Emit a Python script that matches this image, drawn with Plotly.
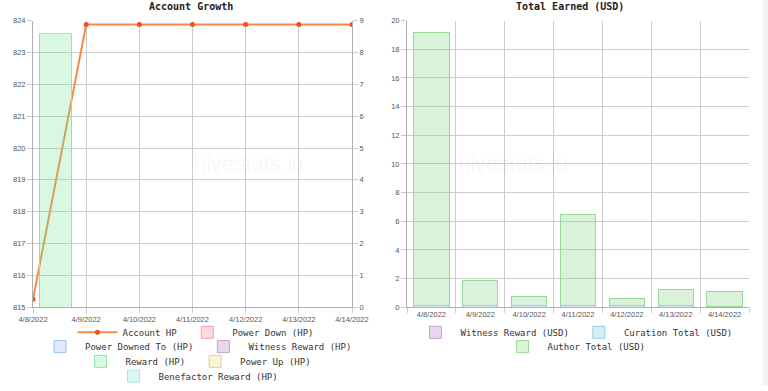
import plotly.graph_objects as go

# ---------------- data ----------------
dates = ["2022-04-08", "2022-04-09", "2022-04-10", "2022-04-11",
         "2022-04-12", "2022-04-13", "2022-04-14"]
date_labels = ["4/8/2022", "4/9/2022", "4/10/2022", "4/11/2022",
               "4/12/2022", "4/13/2022", "4/14/2022"]

account_hp = [815.25, 823.88, 823.88, 823.88, 823.88, 823.88, 823.88]
power_down_hp = [0, 0, 0, 0, 0, 0, 0]
power_downed_to_hp = [0, 0, 0, 0, 0, 0, 0]
witness_reward_hp = [0, 0, 0, 0, 0, 0, 0]
reward_hp = [8.6, 0, 0, 0, 0, 0, 0]
power_up_hp = [0, 0, 0, 0, 0, 0, 0]
benefactor_reward_hp = [0, 0, 0, 0, 0, 0, 0]

witness_reward_usd = [0, 0, 0, 0, 0, 0, 0]
curation_total_usd = [0.15, 0.14, 0.13, 0.13, 0.12, 0.14, 0.04]
author_total_usd = [19.0, 1.69, 0.63, 6.33, 0.48, 1.08, 1.06]

# ---------------- styles ----------------
W, H = 768, 391
MONO = "DejaVu Sans Mono"
SANS = "Liberation Sans"
GRID = "#cccccc"
TICKFONT = dict(family=SANS, size=7.5, color="#555555")
DAY_MS = 86400000

def px_x(p):
    return p / W

def px_y(p):
    return 1 - p / H

fig = go.Figure()

# Left chart: line
fig.add_trace(go.Scatter(
    x=dates, y=account_hp, name="Account HP", mode="lines+markers",
    line=dict(color="#f58a47", width=2),
    marker=dict(color="#f04e23", size=5),
    xaxis="x", yaxis="y", legend="legend",
))

hp_bars = [
    ("Power Down (HP)", power_down_hp, "rgba(255,170,180,0.45)", "#f6a0aa", "legend"),
    ("Power Downed To (HP)", power_downed_to_hp, "rgba(160,195,245,0.35)", "#a0c0f0", "legend2"),
    ("Witness Reward (HP)", witness_reward_hp, "rgba(190,140,205,0.35)", "#c8a0d0", "legend2"),
    ("Reward (HP)", reward_hp, "rgba(120,230,150,0.28)", "#98e0ae", "legend3"),
    ("Power Up (HP)", power_up_hp, "rgba(235,215,120,0.30)", "#e0d090", "legend3"),
    ("Benefactor Reward (HP)", benefactor_reward_hp, "rgba(140,230,215,0.30)", "#a8e8e0", "legend4"),
]
for name, vals, fill, line, lg in hp_bars:
    fig.add_trace(go.Bar(
        x=dates, y=vals, name=name,
        marker=dict(color=fill, line=dict(color=line, width=1)),
        offset=0.113 * DAY_MS, width=0.62 * DAY_MS,
        xaxis="x", yaxis="y2", legend=lg,
    ))

usd_bars = [
    ("Witness Reward (USD)", witness_reward_usd, "rgba(190,140,205,0.35)", "#c8a0d0", "legend5"),
    ("Curation Total (USD)", curation_total_usd, "rgba(150,205,235,0.38)", "#90d0e0", "legend5"),
    ("Author Total (USD)", author_total_usd, "rgba(140,215,140,0.33)", "#98d898", "legend6"),
]
for name, vals, fill, line, lg in usd_bars:
    fig.add_trace(go.Bar(
        x=date_labels, y=vals, name=name,
        marker=dict(color=fill, line=dict(color=line, width=1)),
        width=0.72,
        xaxis="x2", yaxis="y3", legend=lg,
    ))

axis_common = dict(
    showgrid=True, gridcolor=GRID, gridwidth=1,
    showline=True, linecolor="#b0b0b0", linewidth=1,
    ticks="outside", ticklen=5, tickcolor=GRID,
    tickfont=TICKFONT, zeroline=False, automargin=False,
)

legend_common = dict(
    orientation="h", xanchor="center", yanchor="middle",
    font=dict(family=MONO, size=9, color="#333333"),
    itemwidth=40, bgcolor="rgba(0,0,0,0)", tracegroupgap=0,
    traceorder="normal",
    itemclick=False, itemdoubleclick=False,
)

fig.update_layout(
    width=W, height=H, template="none",
    margin=dict(l=0, r=0, t=0, b=0),
    paper_bgcolor="white", plot_bgcolor="white",
    barmode="stack", bargap=0, hovermode=False,
    xaxis=dict(
        axis_common, type="date", domain=[px_x(33), px_x(352)],
        range=[dates[0], dates[-1]], tickvals=dates, ticktext=date_labels,
        anchor="y",
    ),
    yaxis=dict(
        axis_common, domain=[px_y(312), px_y(21)], range=[815, 824],
        dtick=1, anchor="x",
    ),
    yaxis2=dict(
        axis_common, overlaying="y", side="right", range=[0, 9], dtick=1,
        showgrid=False, anchor="x",
    ),
    xaxis2=dict(
        axis_common, type="category", domain=[px_x(407), px_x(749)],
        tickson="boundaries", anchor="y3", range=[-0.5, 6.5],
    ),
    yaxis3=dict(
        axis_common, domain=[px_y(312), px_y(21)], range=[0, 20], dtick=2,
        anchor="x2",
    ),
    legend=dict(legend_common, x=px_x(196), y=px_y(337.5)),
    legend2=dict(legend_common, x=px_x(196), y=px_y(352)),
    legend3=dict(legend_common, x=px_x(196), y=px_y(367)),
    legend4=dict(legend_common, x=px_x(196), y=px_y(382)),
    legend5=dict(legend_common, x=px_x(574), y=px_y(337.5)),
    legend6=dict(legend_common, x=px_x(574), y=px_y(352)),
    showlegend=True,
    annotations=[
        dict(text="<b>Account Growth</b>", x=px_x(191), y=px_y(7),
             xref="paper", yref="paper", showarrow=False,
             xanchor="center", yanchor="middle",
             font=dict(family=MONO, size=10, color="#222222")),
        dict(text="<b>Total Earned (USD)</b>", x=px_x(570), y=px_y(7),
             xref="paper", yref="paper", showarrow=False,
             xanchor="center", yanchor="middle",
             font=dict(family=MONO, size=10, color="#222222")),
        dict(text="hivestats.io", x=px_x(192), y=px_y(166),
             xref="paper", yref="paper", showarrow=False,
             font=dict(family=SANS, size=22, color="rgba(0,0,0,0.05)")),
        dict(text="hivestats.io", x=px_x(570), y=px_y(166),
             xref="paper", yref="paper", showarrow=False,
             font=dict(family=SANS, size=22, color="rgba(0,0,0,0.05)")),
    ],
    shapes=[
        dict(type="rect", xref="paper", yref="paper",
             x0=px_x(763), x1=1, y0=0, y1=1,
             fillcolor="#f2f2f2", line=dict(width=0), layer="below"),
    ],
)

fig.write_html(
    "out.html",
    config={"displayModeBar": False, "staticPlot": True},
    post_script="document.body.style.margin='0';document.body.style.overflow='hidden';",
)
